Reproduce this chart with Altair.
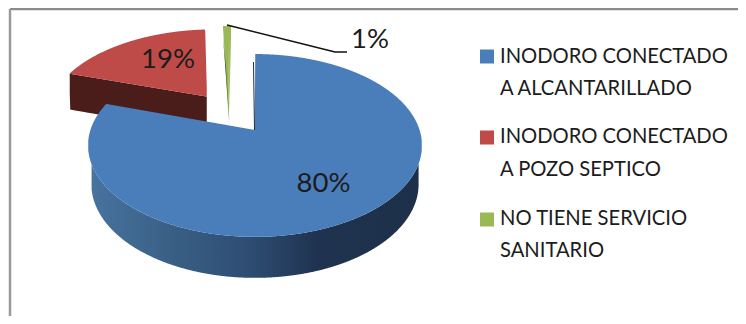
import numpy as np
import pandas as pd
import altair as alt

# ---- chart values -------------------------------------------------------
SHARES = [80, 19, 1]
PERCENT_LABELS = ["80%", "19%", "1%"]
LEGEND_LINES = [
    ["INODORO CONECTADO", "A ALCANTARILLADO"],
    ["INODORO CONECTADO", "A POZO SEPTICO"],
    ["NO TIENE SERVICIO", "SANITARIO"],
]
TOP_COLORS = ["#4a7ebb", "#be4b48", "#98b954"]
RED_WALL = "#4a1c1a"
GREEN_WALL = "#3f5520"
FONT = "Lato"
TEXT_COLOR = "#1c1c1c"

# ---- layout of the page and the perspective of the disc -----------------
W, H = 730, 308
CX, CY = 255.0, 130.0          # projected centre of the disc
A, B, K = 164.6, 88.8, 0.169   # width, height, perspective strength
RED_PULL = 0.508               # how far the red slice is pulled out
GREEN_PULL = (-0.18, 0.46)
GREEN_APEX = (229.0, 125.0)

angles = np.cumsum([0] + SHARES) / sum(SHARES) * 2 * np.pi


def project(u, v):
    w = 1 + K * v
    return CX + A * u / w, CY - B * v / w


def rim(t0, t1, du=0.0, dv=0.0, n=400):
    t = np.linspace(t0, t1, n)
    return project(np.sin(t) + du, np.cos(t) + dv)


def wall_depth(v):
    return 38 - 3 * v


def spans(px, py, step=0.5):
    """Turn a vertically convex outline into x / y / y2 rows for an area mark."""
    px, py = np.append(px, px[0]), np.append(py, py[0])
    xs = np.arange(np.floor(px.min()) + 0.25, np.ceil(px.max()), step)
    rows = []
    for x in xs:
        hits = []
        for i in range(len(px) - 1):
            a, b = px[i], px[i + 1]
            if (a - x) * (b - x) < 0:
                hits.append(py[i] + (x - a) / (b - a) * (py[i + 1] - py[i]))
        if hits:
            rows.append({"x": float(x), "y": min(hits), "y2": max(hits)})
    return pd.DataFrame(rows)


X = alt.X("x:Q", scale=alt.Scale(domain=[8, 8 + W], nice=False, zero=False), axis=None)
Y = alt.Y("y:Q", scale=alt.Scale(domain=[8 + H, 8], nice=False, zero=False), axis=None)


def area(df, color, **kw):
    return alt.Chart(df).mark_area(color=color, strokeWidth=0, **kw).encode(x=X, y=Y, y2="y2:Q")


# blue top
bx, by = rim(angles[0], angles[1])
blue_top = spans(np.append(bx, CX), np.append(by, CY))

# blue wall: front part of the rim, from its rightmost to its leftmost point
t_r = np.arccos(-K)
t_f = np.linspace(t_r, 2 * np.pi - t_r, 500)
fx, fy = project(np.sin(t_f), np.cos(t_f))
lx = CX + (fx - CX) * 0.98
ly = fy + wall_depth(np.cos(t_f))
gx = np.arange(lx.min() + 0.25, lx.max(), 0.5)
blue_wall = pd.DataFrame({
    "x": gx,
    "y": np.interp(gx, fx[::-1], fy[::-1]),
    "y2": np.interp(gx, lx[::-1], ly[::-1]),
})
wall_gradient = alt.Gradient(
    gradient="linear", x1=0, x2=1, y1=0, y2=0,
    stops=[
        alt.GradientStop(color="#47739f", offset=0),
        alt.GradientStop(color="#3a6086", offset=0.23),
        alt.GradientStop(color="#2e4d73", offset=0.48),
        alt.GradientStop(color="#1f3350", offset=0.69),
        alt.GradientStop(color="#1d3049", offset=1),
    ],
)

# red slice
mid = (angles[1] + angles[2]) / 2
du, dv = RED_PULL * np.sin(mid), RED_PULL * np.cos(mid)
rx, ry = rim(angles[1], angles[2], du, dv)
ax, ay = project(du, dv)
red_top = spans(np.append(rx, ax), np.append(ry, ay))
tip_v = np.cos(angles[1]) + dv
d_tip, d_ap = wall_depth(tip_v), wall_depth(dv)
red_wall = spans(
    np.array([rx[0], ax, ax, rx[0] + 0.5]),
    np.array([ry[0], ay, ay + d_ap, ry[0] + d_tip]),
)

# green slice
ggx, ggy = rim(angles[2], angles[3], *GREEN_PULL, n=60)
green_top = spans(np.append(ggx, GREEN_APEX[0]), np.append(ggy, GREEN_APEX[1]), step=0.25)
green_wall = spans(
    np.array([ggx[0], GREEN_APEX[0] + 0.6, ggx[0] + 3.0]),
    np.array([ggy[0] + 10, GREEN_APEX[1], ggy[0] + 40]),
    step=0.25,
)

# leader line of the small slice
leader = pd.DataFrame({"x": [227, 335, 347], "y": [25, 52, 52]})
edge = pd.DataFrame({"x": [253.5], "x2": [254.5], "y": [62.0], "y2": [130.0]})

# percent labels
pct = pd.DataFrame({
    "x": [323.5, 168, 370],
    "y": [184, 60, 40],
    "t": PERCENT_LABELS,
})

# legend
leg_y = [[56.5, 88.5], [137, 170], [218.5, 251]]
leg_text = pd.DataFrame([
    {"x": 500, "y": y, "t": line}
    for lines, ys in zip(LEGEND_LINES, leg_y)
    for line, y in zip(lines, ys)
])
leg_keys = pd.DataFrame({
    "x": [487, 487, 487],
    "y": [56.5, 137.5, 219.5],
    "c": TOP_COLORS,
})

# frame
frame_top = pd.DataFrame({"x": [10.0], "x2": [8.0 + W], "y": [9.0], "y2": [9.0]})
frame_left = pd.DataFrame({"x": [10.0], "x2": [10.0], "y": [9.0], "y2": [8.0 + H]})


def rule(df, color, width):
    return alt.Chart(df).mark_rule(color=color, strokeWidth=width).encode(
        x=X, y=Y, x2="x2:Q", y2="y2:Q"
    )


layers = [
    area(red_wall, RED_WALL),
    area(red_top, TOP_COLORS[1]),
    area(green_top, TOP_COLORS[2]),
    area(green_wall, GREEN_WALL),
    area(blue_wall, wall_gradient),
    area(blue_top, TOP_COLORS[0]),
    rule(edge, "#1a2a40", 1),
    alt.Chart(leader).mark_line(color="#111111", strokeWidth=1.6).encode(x=X, y=Y),
    alt.Chart(pct).mark_text(font=FONT, fontSize=27.5, color=TEXT_COLOR, align="center", baseline="middle").encode(
        x=X, y=Y, text="t:N"
    ),
    alt.Chart(leg_keys).mark_square(size=196, opacity=1).encode(
        x=X, y=Y, color=alt.Color("c:N", scale=None)
    ),
    alt.Chart(leg_text).mark_text(font=FONT, fontSize=20.2, color=TEXT_COLOR, align="left", baseline="middle").encode(
        x=X, y=Y, text="t:N"
    ),
    rule(frame_top, "#8c8c8c", 2.5),
    rule(frame_left, "#9a9a9a", 2.5),
]

chart = (
    alt.layer(*layers)
    .properties(width=W, height=H, padding=0, autosize="none", background="white")
    .configure_view(stroke=None)
)

chart.save("out.html", embed_options={"renderer": "svg", "actions": False})
